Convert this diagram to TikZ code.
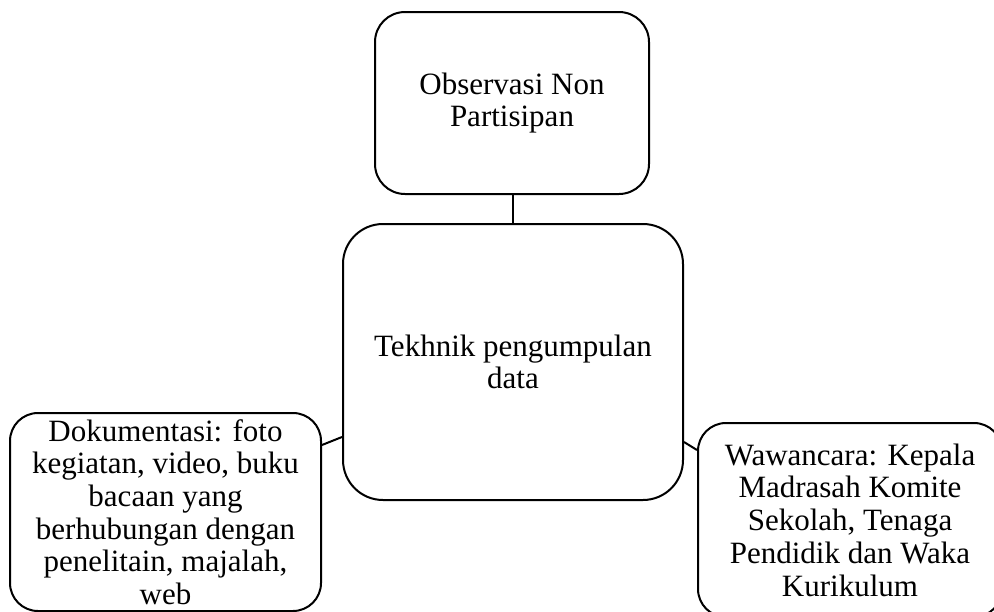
\documentclass[tikz,border=0pt]{standalone}
\usepackage{fontspec}
\setmainfont{Liberation Serif}
\begin{document}
\begin{tikzpicture}[x=1pt,y=-1pt,
  box/.style={draw=black, line width=2pt, fill=white, align=center,
    font=\fontsize{31}{32.7}\selectfont, inner sep=0pt},
  link/.style={draw=black, line width=2pt}]
\useasboundingbox (0,0) rectangle (994,611);
\node[box, rounded corners=30pt, minimum width=274pt, minimum height=182pt] (top) at (512,103) {Observasi Non\\Partisipan};
\node[box, rounded corners=40pt, minimum width=340pt, minimum height=276pt] (mid) at (513,362) {Tekhnik pengumpulan\\data};
\node[box, rounded corners=28pt, minimum width=311pt, minimum height=198pt] (left) at (165.5,512) {Dokumentasi: foto\\kegiatan, video, buku\\bacaan yang\\berhubungan dengan\\penelitain, majalah,\\web};
\node[box, rounded corners=28pt, minimum width=304pt, minimum height=194pt] (right) at (850,520) {Wawancara: Kepala\\Madrasah Komite\\Sekolah, Tenaga\\Pendidik dan Waka\\Kurikulum};
\draw[link] (mid.north) -- (mid.north |- top.south);
\draw[link] (left.east |- 0,445) -- (mid.west |- 0,437);
\draw[link] (mid.east |- 0,442) -- (right.west |- 0,450);
\end{tikzpicture}
\end{document}
